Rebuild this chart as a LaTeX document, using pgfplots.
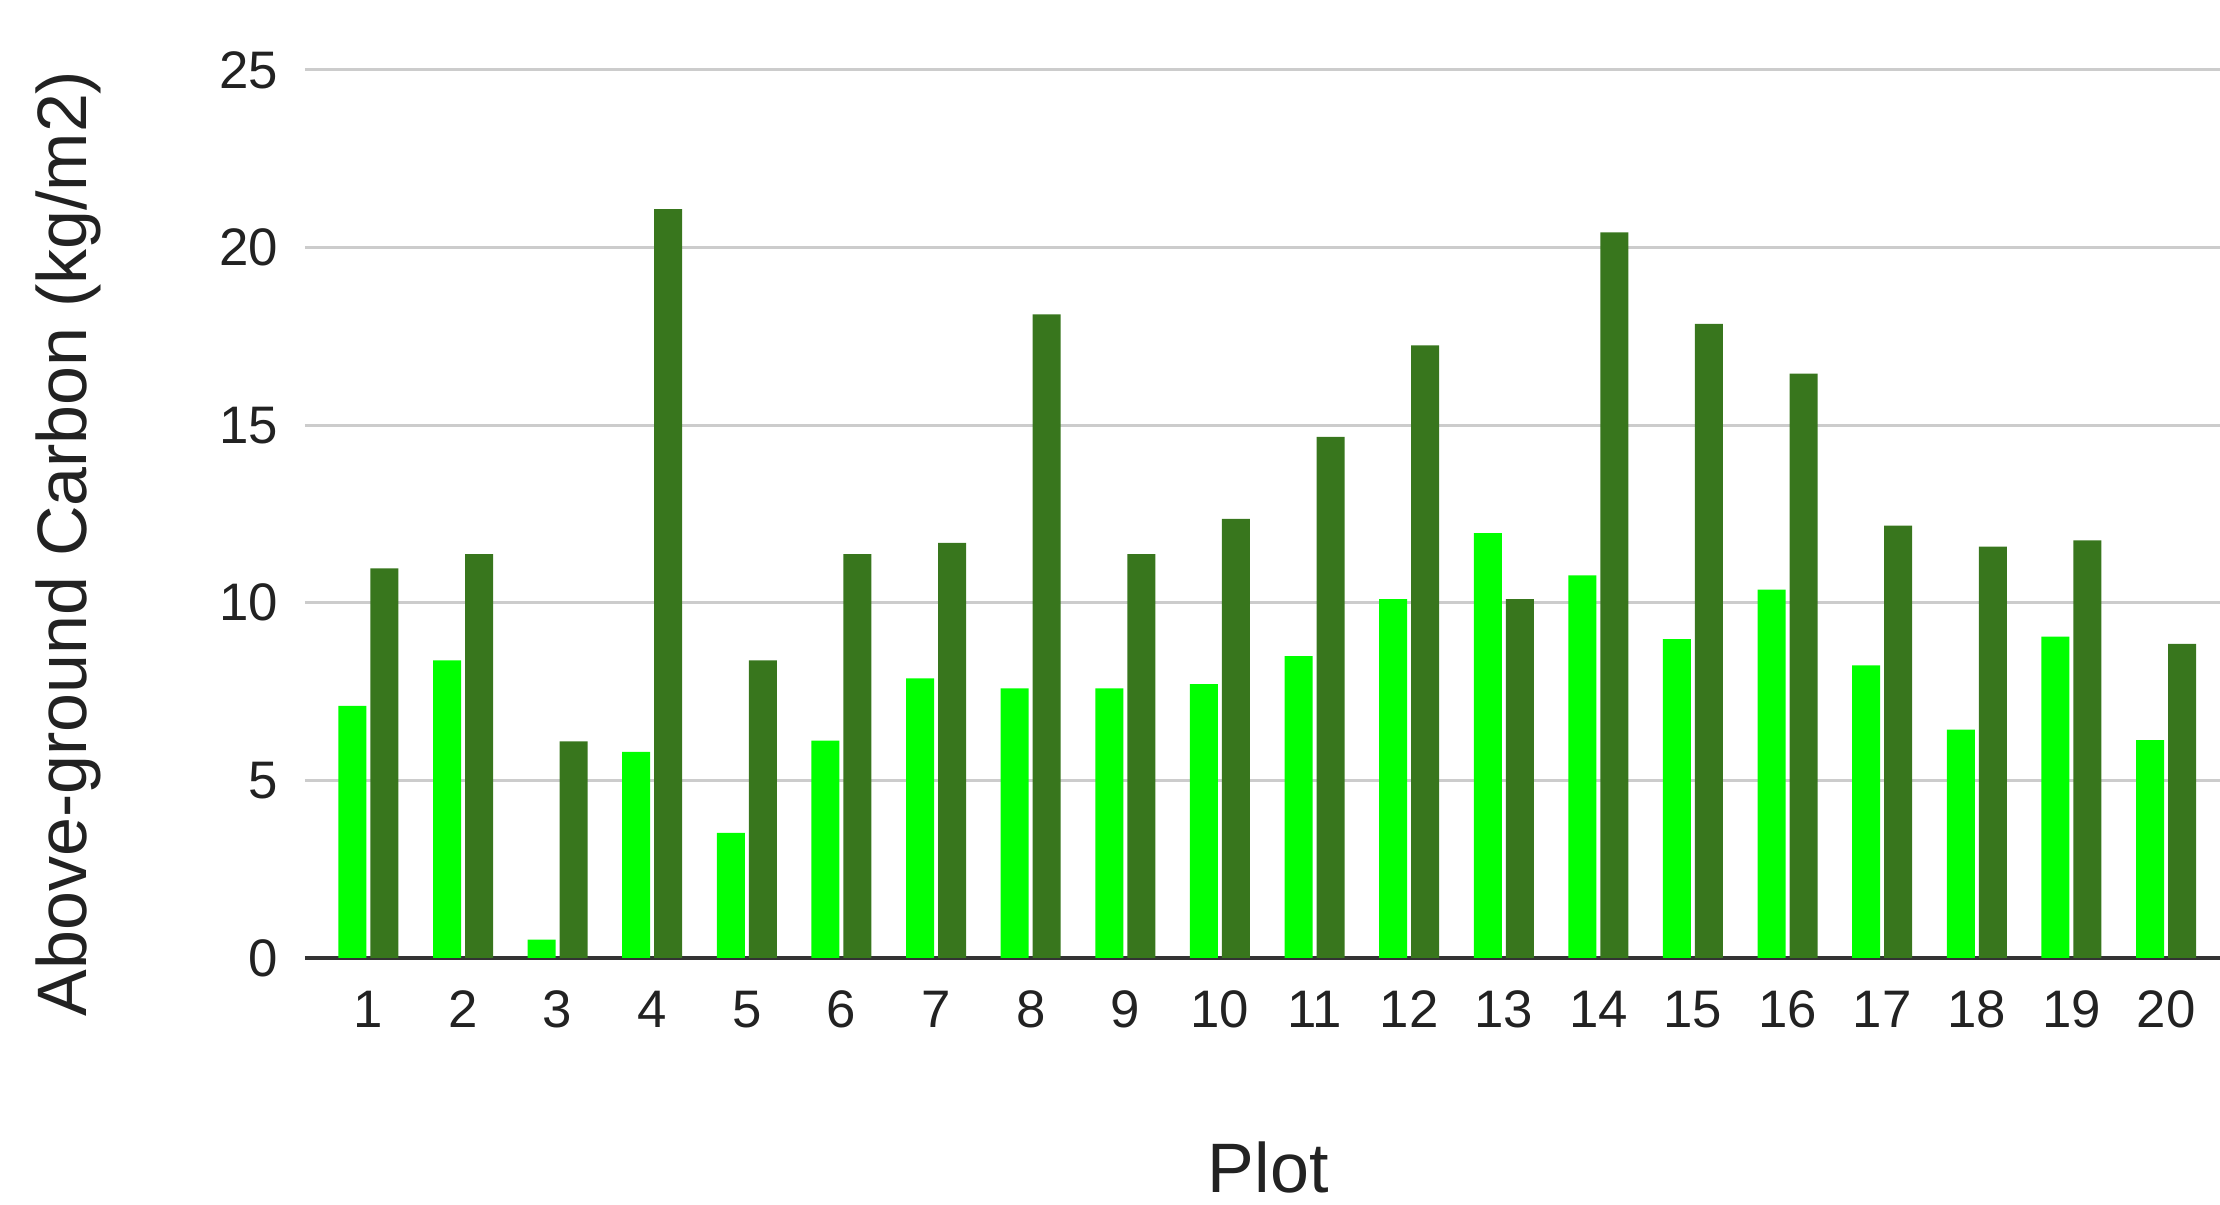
\documentclass[border=0pt]{standalone}
\usepackage{fontspec}
\setmainfont{Liberation Sans}
\usepackage{pgfplots}
\pgfplotsset{compat=1.18}
\definecolor{lightg}{HTML}{00FF00}
\definecolor{darkg}{HTML}{38761D}
\definecolor{gridc}{HTML}{CCCCCC}
\definecolor{axc}{HTML}{333333}
\definecolor{txt}{HTML}{222222}
\begin{document}
\begin{tikzpicture}
\begin{axis}[
  scale only axis,
  width=478.75pt, height=222pt,
  xmin=0.33, xmax=20.57, ymin=0, ymax=25,
  ybar=1pt, bar width=7pt,
  axis x line=bottom, axis y line=left,
  axis line style={-},
  x axis line style={draw=axc, line width=0.8pt},
  y axis line style={draw=none},
  ymajorgrids, grid style={gridc, line width=0.75pt},
  xtick={1,...,20}, ytick={0,5,10,15,20,25},
  major tick length=0pt, tick style={draw=none},
  /pgf/number format/assume math mode=true,
  ticklabel style={font=\fontsize{13.2}{16}\selectfont, text=txt, inner sep=0pt},
  yticklabel style={anchor=east, xshift=-6.5pt},
  xticklabel style={anchor=north, yshift=-8pt},
  xlabel={Plot}, ylabel={Above-ground Carbon (kg/m2)},
  every axis x label/.style={at={(axis description cs:0.503,-0.236)}, anchor=center, font=\fontsize{17.5}{20}\selectfont, text=txt},
  every axis y label/.style={at={(axis description cs:-0.1238,0.467)}, anchor=center, rotate=90, font=\fontsize{17.5}{20}\selectfont, text=txt},
  clip=false,
]
\addplot[draw=none, fill=lightg] coordinates {
(1,7.10) (2,8.38) (3,0.52) (4,5.80) (5,3.52) (6,6.12) (7,7.87) (8,7.59) (9,7.59) (10,7.71)
(11,8.50) (12,10.10) (13,11.96) (14,10.77) (15,8.98) (16,10.37) (17,8.24) (18,6.43) (19,9.05) (20,6.13)};
\addplot[draw=none, fill=darkg] coordinates {
(1,10.97) (2,11.37) (3,6.10) (4,21.08) (5,8.38) (6,11.37) (7,11.69) (8,18.12) (9,11.37) (10,12.36)
(11,14.67) (12,17.25) (13,10.10) (14,20.43) (15,17.85) (16,16.45) (17,12.17) (18,11.58) (19,11.76) (20,8.84)};
\coordinate (bbA) at (axis description cs:-0.15927,-0.27815);
\coordinate (bbB) at (axis description cs:1.0,1.07883);
\end{axis}
\pgfresetboundingbox
\path (bbA) rectangle (bbB);
\end{tikzpicture}
\end{document}
